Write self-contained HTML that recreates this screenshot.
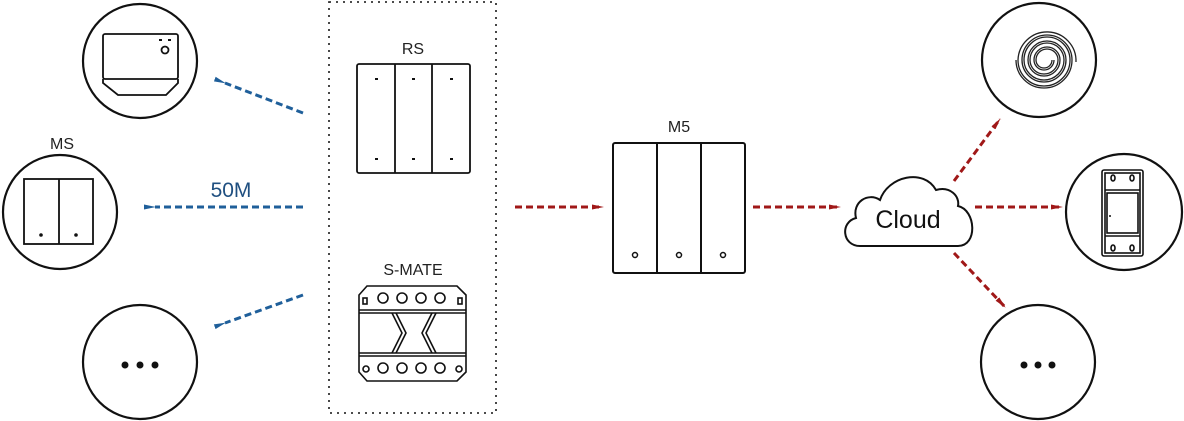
<!DOCTYPE html>
<html><head><meta charset="utf-8"><style>
html,body{margin:0;padding:0;background:#fff;}
svg{display:block;font-family:"Liberation Sans","DejaVu Sans",sans-serif;}
</style></head><body>
<svg width="1184" height="421" viewBox="0 0 1184 421" xmlns="http://www.w3.org/2000/svg">
<defs>
<marker id="ab" markerUnits="userSpaceOnUse" markerWidth="12" markerHeight="8" refX="1" refY="4" orient="auto"><path d="M12,1.5 L0,4 L12,6.5 Z" fill="#1f5f9a"/></marker>
<marker id="ar" markerUnits="userSpaceOnUse" markerWidth="12" markerHeight="8" refX="11" refY="4" orient="auto"><path d="M0,1.5 L12,4 L0,6.5 Z" fill="#a01818"/></marker>
</defs>
<g fill="none" stroke="#111" stroke-width="2.2">
<circle cx="140" cy="61" r="57"/>
<circle cx="60" cy="212" r="57"/>
<circle cx="140" cy="362" r="57"/>
<circle cx="1039" cy="60" r="57"/>
<circle cx="1124" cy="212" r="58"/>
<circle cx="1038" cy="362" r="57"/>
</g>
<g fill="none" stroke="#111" stroke-width="1.8">
<rect x="103" y="34" width="75" height="45" rx="2"/>
<path d="M103,79 L103,83 L118,95 L166,95 L178,83 L178,79"/>
<circle cx="165" cy="50" r="3.5"/>
</g>
<rect x="159" y="39" width="3" height="2" fill="#111"/><rect x="168" y="39" width="3" height="2" fill="#111"/>
<g fill="none" stroke="#111" stroke-width="1.8">
<rect x="24" y="179" width="69" height="65"/>
<line x1="59" y1="179" x2="59" y2="244"/>
</g>
<circle cx="41" cy="235" r="1.8" fill="#111"/><circle cx="76" cy="235" r="1.8" fill="#111"/>
<text x="62" y="149" font-size="16" text-anchor="middle" fill="#222">MS</text>
<g fill="#111"><circle cx="125" cy="365" r="3.5"/><circle cx="140" cy="365" r="3.5"/><circle cx="155" cy="365" r="3.5"/>
<circle cx="1024" cy="365" r="3.5"/><circle cx="1038" cy="365" r="3.5"/><circle cx="1052" cy="365" r="3.5"/></g>
<g stroke="#1f5f9a" stroke-width="3" stroke-dasharray="7,4" fill="none">
<line x1="303" y1="113" x2="225" y2="83" marker-end="url(#ab)"/>
<line x1="303" y1="207" x2="155" y2="207" marker-end="url(#ab)"/>
<line x1="303" y1="295" x2="225" y2="323" marker-end="url(#ab)"/>
</g>
<text x="231" y="197" font-size="21" text-anchor="middle" fill="#1f4f80">50M</text>
<rect x="329" y="2" width="167" height="411" fill="none" stroke="#333" stroke-width="1.8" stroke-dasharray="2,5"/>
<text x="413" y="54" font-size="16" text-anchor="middle" fill="#222">RS</text>
<g fill="none" stroke="#111" stroke-width="1.8">
<rect x="357" y="64" width="113" height="109" rx="2"/>
<line x1="395" y1="64" x2="395" y2="173"/><line x1="432" y1="64" x2="432" y2="173"/>
</g>
<g fill="#111"><rect x="375" y="78" width="3" height="2"/><rect x="412" y="78" width="3" height="2"/><rect x="450" y="78" width="3" height="2"/>
<rect x="375" y="158" width="3" height="2"/><rect x="412" y="158" width="3" height="2"/><rect x="450" y="158" width="3" height="2"/></g>
<text x="413" y="275" font-size="16" text-anchor="middle" fill="#222">S-MATE</text>
<g fill="none" stroke="#111" stroke-width="1.6">
<path d="M367,286 L457,286 L466,295 L466,372 L457,381 L367,381 L359,372 L359,295 Z"/>
<line x1="359" y1="310" x2="466" y2="310"/><line x1="359" y1="313" x2="466" y2="313"/>
<line x1="359" y1="353" x2="466" y2="353"/><line x1="359" y1="356" x2="466" y2="356"/>
<path d="M392,313 L402,333 L392,353"/><path d="M396,313 L406,333 L396,353"/>
<path d="M432,313 L422,333 L432,353"/><path d="M436,313 L426,333 L436,353"/>
<circle cx="383" cy="298" r="5"/><circle cx="402" cy="298" r="5"/><circle cx="421" cy="298" r="5"/><circle cx="440" cy="298" r="5"/>
<circle cx="383" cy="368" r="5"/><circle cx="402" cy="368" r="5"/><circle cx="421" cy="368" r="5"/><circle cx="440" cy="368" r="5"/>
<rect x="363" y="298" width="4" height="6"/><rect x="458" y="298" width="4" height="6"/>
<circle cx="366" cy="369" r="3"/><circle cx="459" cy="369" r="3"/>
</g>
<g stroke="#a01818" stroke-width="3" stroke-dasharray="7,4" fill="none">
<line x1="515" y1="207" x2="603" y2="207" marker-end="url(#ar)"/>
<line x1="753" y1="207" x2="840" y2="207" marker-end="url(#ar)"/>
<line x1="975" y1="207" x2="1062" y2="207" marker-end="url(#ar)"/>
<line x1="954" y1="181" x2="1000" y2="119" marker-end="url(#ar)"/>
<line x1="954" y1="253" x2="1005" y2="307" marker-end="url(#ar)"/>
</g>
<text x="679" y="132" font-size="16" text-anchor="middle" fill="#222">M5</text>
<g fill="none" stroke="#111" stroke-width="2">
<rect x="613" y="143" width="132" height="130" rx="2"/>
<line x1="657" y1="143" x2="657" y2="273"/><line x1="701" y1="143" x2="701" y2="273"/>
<circle cx="635" cy="255" r="2.5" stroke-width="1.5"/><circle cx="679" cy="255" r="2.5" stroke-width="1.5"/><circle cx="723" cy="255" r="2.5" stroke-width="1.5"/>
</g>
<path d="M860,246 C842,246 840,222 856,218 C852,202 868,192 880,200 C888,176 924,168 936,190 C950,186 960,196 958,206 C976,210 978,246 958,246 Z" fill="#fff" stroke="#111" stroke-width="2"/>
<text x="908" y="228" font-size="25" text-anchor="middle" fill="#111">Cloud</text>
<g fill="none" stroke="#222" stroke-width="1.3">
<path d="M1052,60 A8,8 0 1 1 1036,60 A11,11 0 1 1 1058,60 A14,14 0 1 1 1030,60 A17,17 0 1 1 1064,60 A20,20 0 1 1 1024,60 A23,23 0 1 1 1070,60 A26,26 0 1 1 1018,60 A29,29 0 1 1 1076,62"/>
<path d="M1054,60 A10,10 0 1 1 1034,60 A13,13 0 1 1 1060,60 A16,16 0 1 1 1028,60 A19,19 0 1 1 1066,60 A22,22 0 1 1 1022,60 A25,25 0 1 1 1072,60 A28,28 0 1 1 1016,60"/>
</g>
<g fill="none" stroke="#111" stroke-width="1.6">
<rect x="1102" y="170" width="41" height="86" rx="2"/>
<rect x="1105" y="173" width="35" height="80"/>
<line x1="1105" y1="190" x2="1140" y2="190"/><line x1="1105" y1="236" x2="1140" y2="236"/>
<rect x="1107" y="193" width="31" height="40"/>
<ellipse cx="1113" cy="178" rx="2" ry="3"/><ellipse cx="1132" cy="178" rx="2" ry="3"/>
<ellipse cx="1113" cy="248" rx="2" ry="3"/><ellipse cx="1132" cy="248" rx="2" ry="3"/>
</g>
<circle cx="1110" cy="216" r="1" fill="#111"/>
</svg>
</body></html>
